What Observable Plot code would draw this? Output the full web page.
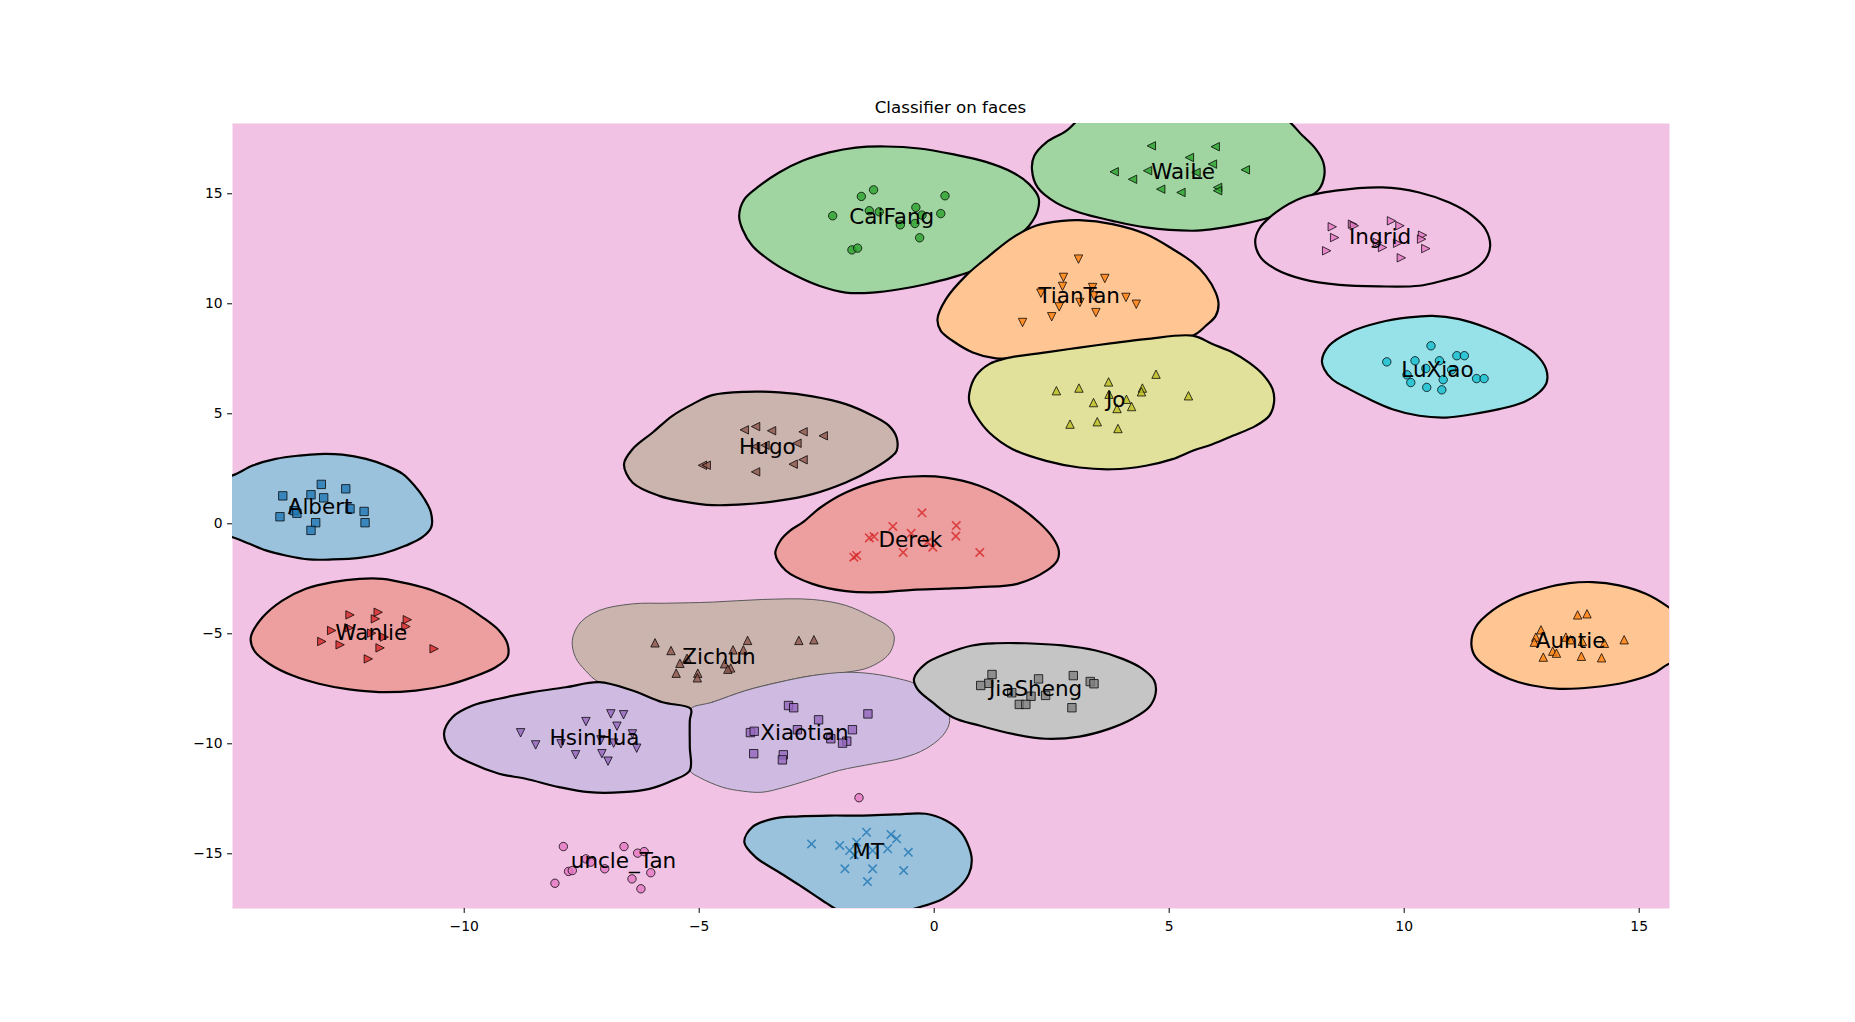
<!DOCTYPE html>
<html><head><meta charset="utf-8">
<script src="https://cdn.jsdelivr.net/npm/d3@7"></script>
<script src="https://cdn.jsdelivr.net/npm/@observablehq/plot@0.6"></script>
<style>
body{margin:0;background:#fff;}
#wrap{position:relative;width:1855px;height:1022px;}
#title{position:absolute;left:232px;width:1437px;top:98px;text-align:center;font:16.67px/20px "DejaVu Sans";color:#000;z-index:2;}
#wrap svg{position:absolute;left:0;top:0;}
</style></head><body>
<div id="wrap"><div id="title">Classifier on faces</div></div>
<script>
// ---------- data ----------
const classNames = ["Albert","Auntie","CaiFang","Derek","HsinHua","Hugo","Ingrid","JiaSheng","Jo","LuXiao","MT","TianTan","WaiLe","Wanlie","Xiaotian","Zichun","uncle_Tan"];
const markerCycle = ["s","^","o","x","v","<",">"];
const xTicks = [-10,-5,0,5,10,15];
const yTicks = [-15,-10,-5,0,5,10,15];

const Albert_pts = [[-13.86,1.27],[-13.04,1.79],[-12.52,1.59],[-13.26,1.32],[-12.99,1.18],[-13.92,0.32],[-13.62,0.60],[-13.56,0.48],[-13.16,0.05],[-13.26,-0.30],[-12.43,0.68],[-12.13,0.56],[-12.11,0.05]];
const Auntie_pts = [[13.69,-4.14],[13.89,-4.09],[12.91,-4.82],[12.80,-5.15],[12.77,-5.38],[13.44,-5.15],[13.54,-5.27],[13.79,-5.34],[14.26,-5.43],[14.68,-5.27],[13.16,-5.79],[13.24,-5.88],[12.96,-6.06],[13.77,-6.02],[14.20,-6.09]];
const CaiFang_pts = [[-1.29,15.18],[-1.55,14.88],[0.23,14.91],[-2.16,14.00],[-0.39,14.38],[0.14,14.10],[-0.72,13.59],[-0.41,13.65],[-0.31,13.00],[-1.75,12.45],[-1.63,12.53],[-1.38,14.23],[-1.17,14.18],[-0.26,14.03]];
const Derek_pts = [[-0.26,0.50],[-0.88,-0.12],[-1.38,-0.64],[-1.28,-0.58],[-0.49,-0.43],[0.47,-0.08],[0.46,-0.56],[-0.03,-1.06],[-0.15,-0.84],[-0.66,-1.30],[0.97,-1.30],[-1.71,-1.52],[-1.65,-1.44]];
const HsinHua_pts = [[-8.80,-9.50],[-8.48,-10.05],[-7.94,-10.0],[-7.41,-8.99],[-6.88,-8.64],[-6.61,-8.68],[-6.75,-9.20],[-7.63,-10.5],[-7.09,-9.82],[-6.82,-9.97],[-7.07,-10.45],[-6.94,-10.79],[-6.33,-10.2],[-6.42,-9.55]];
const Hugo_pts = [[-4.04,4.27],[-3.80,4.42],[-3.46,4.23],[-2.79,4.18],[-2.36,4.00],[-3.80,3.51],[-3.60,3.57],[-2.92,3.66],[-2.79,2.91],[-3.00,2.71],[-3.80,2.36],[-4.93,2.66],[-4.85,2.66]];
const Ingrid_pts = [[8.47,13.5],[8.90,13.62],[8.94,13.55],[9.73,13.77],[9.91,13.55],[8.52,13.01],[8.35,12.41],[9.54,12.56],[9.43,12.79],[9.86,12.75],[9.94,12.09],[10.39,13.12],[10.37,12.94],[10.46,12.51]];
const JiaSheng_pts = [[1.23,-6.85],[1.16,-7.25],[0.99,-7.35],[2.22,-7.05],[2.96,-6.90],[3.32,-7.17],[3.40,-7.27],[1.65,-7.68],[2.06,-7.84],[2.37,-7.80],[1.81,-8.21],[1.95,-8.21],[2.93,-8.36]];
const Jo_pts = [[2.60,6.05],[3.08,6.17],[3.71,6.45],[4.72,6.80],[4.43,6.17],[4.41,6.0],[5.41,5.82],[3.39,5.51],[3.72,5.89],[4.09,5.66],[4.20,5.33],[3.89,5.24],[2.89,4.53],[3.47,4.64],[3.91,4.33]];
const LuXiao_pts = [[10.57,8.09],[9.63,7.36],[10.23,7.41],[10.75,7.41],[11.12,7.64],[11.28,7.64],[10.06,6.77],[10.14,6.42],[10.48,6.20],[10.80,6.09],[10.83,6.55],[11.54,6.60],[11.70,6.60],[10.46,7.06],[11.01,7.0]];
const MT_pts = [[-2.61,-14.55],[-2.01,-14.62],[-1.44,-14.02],[-0.92,-14.12],[-0.80,-14.32],[-1.65,-14.47],[-1.80,-14.85],[-1.70,-15.05],[-1.31,-14.85],[-0.99,-14.77],[-0.55,-14.93],[-1.90,-15.68],[-1.31,-15.68],[-0.65,-15.76],[-1.42,-16.26]];
const TianTan_pts = [[3.07,12.03],[2.75,11.20],[2.73,10.79],[3.63,11.15],[3.37,10.74],[3.40,10.36],[2.27,10.48],[3.10,10.06],[2.66,9.86],[4.08,10.29],[4.30,9.98],[3.44,9.60],[2.50,9.41],[1.88,9.15]];
const WaiLe_pts = [[4.62,17.18],[3.83,16.0],[4.22,15.66],[4.54,16.05],[4.82,15.21],[5.25,15.06],[5.43,16.65],[5.98,17.14],[5.92,16.35],[6.62,16.09],[6.03,15.29],[6.03,15.14],[5.57,15.97]];
const Wanlie_pts = [[-12.43,-4.14],[-11.83,-4.02],[-11.89,-4.32],[-11.21,-4.36],[-11.24,-4.67],[-12.82,-4.85],[-12.45,-4.73],[-13.03,-5.35],[-12.64,-5.50],[-11.97,-4.97],[-11.70,-5.15],[-11.79,-5.64],[-12.04,-6.14],[-10.64,-5.68]];
const Xiaotian_pts = [[-3.10,-8.26],[-2.99,-8.36],[-1.41,-8.64],[-2.46,-8.91],[-1.74,-9.36],[-3.91,-9.49],[-3.83,-9.43],[-2.91,-9.36],[-2.20,-9.77],[-1.86,-9.88],[-1.95,-9.97],[-3.84,-10.45],[-3.21,-10.5],[-3.23,-10.73]];
const Zichun_pts = [[-5.94,-5.41],[-5.60,-5.76],[-5.41,-6.34],[-5.26,-6.11],[-5.49,-6.79],[-5.03,-6.79],[-5.04,-7.00],[-3.97,-5.30],[-4.28,-5.73],[-4.06,-5.73],[-4.46,-6.36],[-4.33,-6.55],[-4.39,-6.61],[-2.88,-5.30],[-2.56,-5.27]];
const uncle_Tan_pts = [[-7.89,-14.67],[-6.60,-14.67],[-6.31,-14.97],[-6.17,-14.90],[-7.41,-15.23],[-7.31,-15.38],[-7.01,-15.68],[-7.78,-15.80],[-7.70,-15.76],[-6.03,-15.86],[-6.43,-16.14],[-6.24,-16.59],[-8.07,-16.34],[-1.60,-12.45]];

// decision-region outlines (data coordinates)
const Albert_region = [[-14.93,2.20],[-14.50,2.65],[-14.01,2.95],[-13.51,3.10],[-13.09,3.17],[-12.59,3.14],[-12.09,2.95],[-11.67,2.65],[-11.31,2.27],[-11.06,1.74],[-10.85,1.14],[-10.71,0.53],[-10.70,-0.15],[-10.89,-0.61],[-11.24,-0.99],[-11.74,-1.36],[-12.23,-1.55],[-12.80,-1.62],[-13.30,-1.62],[-13.80,-1.44],[-14.22,-1.21],[-14.57,-0.91],[-14.93,-0.61],[-15.5,-0.35],[-15.5,1.95]];
const Wanlie_region = [[-14.54,-5.15],[-14.29,-4.25],[-13.87,-3.49],[-13.37,-2.95],[-12.80,-2.65],[-12.23,-2.50],[-11.74,-2.50],[-11.17,-2.73],[-10.67,-3.03],[-10.11,-3.56],[-9.61,-4.25],[-9.26,-4.85],[-9.08,-5.45],[-9.08,-6.06],[-9.33,-6.52],[-9.82,-6.97],[-10.39,-7.35],[-11.03,-7.58],[-11.81,-7.65],[-12.45,-7.53],[-13.09,-7.27],[-13.65,-6.90],[-14.15,-6.36],[-14.47,-5.76]];
const HsinHua_region = [[-10.43,-9.55],[-10.25,-8.79],[-9.82,-8.26],[-9.26,-7.95],[-8.55,-7.65],[-7.84,-7.43],[-7.13,-7.20],[-6.42,-7.58],[-5.78,-8.11],[-5.18,-8.41],[-5.20,-8.94],[-5.20,-10.15],[-5.20,-11.21],[-5.57,-11.67],[-6.06,-12.05],[-6.63,-12.20],[-7.34,-12.20],[-7.98,-11.97],[-8.69,-11.59],[-9.26,-11.36],[-9.82,-10.91],[-10.25,-10.38]];
const Zichun_region = [[-7.70,-5.30],[-7.53,-4.49],[-7.13,-3.94],[-6.42,-3.64],[-5.71,-3.61],[-4.72,-3.56],[-3.65,-3.44],[-2.59,-3.44],[-1.88,-3.71],[-1.31,-4.25],[-0.96,-4.70],[-0.85,-5.15],[-0.96,-5.91],[-1.38,-6.52],[-1.88,-6.75],[-2.59,-6.90],[-3.30,-7.20],[-4.01,-7.58],[-4.72,-8.11],[-5.19,-8.40],[-5.78,-8.11],[-6.42,-7.58],[-7.13,-7.20],[-7.42,-6.67],[-7.63,-6.08]];
const Xiaotian_region = [[-5.18,-8.41],[-4.72,-8.11],[-4.01,-7.58],[-3.30,-7.20],[-2.59,-6.90],[-1.88,-6.75],[-1.31,-6.82],[-0.74,-7.05],[-0.43,-7.25],[-0.11,-7.73],[0.25,-8.34],[0.33,-8.94],[0.21,-9.55],[-0.18,-10.23],[-0.67,-10.64],[-1.31,-10.91],[-2.02,-11.21],[-2.66,-11.64],[-3.23,-12.00],[-3.66,-12.20],[-4.08,-12.15],[-4.51,-11.97],[-5.00,-11.52],[-5.20,-11.21],[-5.21,-10.15],[-5.20,-8.94]];
const JiaSheng_region = [[-0.43,-7.05],[-0.18,-6.36],[0.25,-5.91],[0.81,-5.53],[1.31,-5.43],[1.95,-5.43],[2.73,-5.53],[3.44,-5.76],[4.01,-6.14],[4.43,-6.59],[4.68,-7.12],[4.71,-7.73],[4.57,-8.34],[4.22,-8.86],[3.72,-9.32],[3.09,-9.67],[2.37,-9.77],[1.67,-9.55],[0.96,-9.17],[0.39,-8.79],[-0.04,-8.11],[-0.36,-7.50]];
const MT_region = [[-4.04,-14.47],[-3.87,-13.79],[-3.44,-13.41],[-2.87,-13.30],[-2.23,-13.26],[-1.53,-13.26],[-0.82,-13.21],[-0.18,-13.18],[0.25,-13.49],[0.57,-14.02],[0.74,-14.70],[0.80,-15.30],[0.74,-15.91],[0.53,-16.52],[0.18,-17.05],[-0.32,-17.43],[-0.74,-17.65],[-1.31,-17.80],[-1.95,-17.65],[-2.38,-17.12],[-2.80,-16.52],[-3.30,-15.84],[-3.80,-15.15]];
const Derek_region = [[-3.38,-1.36],[-3.27,-0.76],[-3.06,-0.30],[-2.80,0.06],[-2.42,0.74],[-1.88,1.42],[-1.17,1.95],[-0.46,2.15],[0.25,2.10],[0.96,1.73],[1.67,0.97],[2.23,0.06],[2.52,-0.62],[2.65,-1.21],[2.62,-1.67],[2.40,-2.12],[1.77,-2.73],[0.96,-2.88],[0.25,-2.95],[-0.46,-3.00],[-1.17,-3.11],[-1.88,-3.06],[-2.59,-2.73],[-3.16,-2.12]];
const Hugo_region = [[-6.60,2.71],[-6.42,3.39],[-5.99,4.15],[-5.57,4.91],[-5.14,5.44],[-4.72,5.85],[-4.01,6.00],[-3.30,5.97],[-2.59,5.79],[-1.88,5.44],[-1.31,4.91],[-0.96,4.45],[-0.80,3.92],[-0.80,3.32],[-0.89,3.09],[-1.31,2.48],[-1.88,1.88],[-2.59,1.35],[-3.30,1.05],[-4.01,0.89],[-4.72,0.85],[-5.29,1.00],[-5.85,1.27],[-6.42,1.88]];
const CaiFang_region = [[-4.15,14.0],[-4.04,14.75],[-3.72,15.36],[-3.30,15.97],[-2.80,16.5],[-2.23,16.88],[-1.67,17.1],[-1.03,17.15],[-0.32,17.06],[0.39,16.8],[1.10,16.45],[1.67,15.97],[2.02,15.44],[2.22,14.83],[2.20,14.23],[2.02,13.55],[1.67,12.86],[1.31,12.18],[0.89,11.57],[0.39,11.2],[-0.18,10.89],[-0.74,10.66],[-1.31,10.51],[-1.88,10.51],[-2.45,10.82],[-2.94,11.27],[-3.44,11.88],[-3.87,12.64],[-4.08,13.39]];
const TianTan_region = [[0.07,9.30],[0.25,10.21],[0.67,11.27],[1.17,12.18],[1.67,13.01],[2.16,13.55],[2.73,13.77],[3.09,13.8],[3.79,13.62],[4.50,13.17],[5.08,12.48],[5.50,11.88],[5.78,11.27],[5.99,10.51],[6.05,9.98],[5.99,9.45],[5.78,9.0],[5.50,8.55],[4.50,8.17],[3.79,8.01],[3.09,7.79],[2.38,7.64],[1.67,7.52],[1.31,7.52],[0.82,7.79],[0.39,8.32],[0.14,8.77]];
const Jo_region = [[0.75,5.97],[0.89,6.73],[1.17,7.26],[1.52,7.52],[2.38,7.79],[3.09,8.01],[3.79,8.21],[4.50,8.39],[5.50,8.55],[5.92,8.17],[6.35,7.79],[6.70,7.33],[6.99,6.80],[7.20,6.12],[7.23,5.51],[7.13,4.91],[6.84,4.45],[6.35,4.0],[5.92,3.62],[5.50,3.32],[5.07,2.94],[4.50,2.64],[3.79,2.48],[3.09,2.56],[2.38,2.86],[1.67,3.39],[1.17,4.15],[0.89,4.91],[0.75,5.51]];
const WaiLe_region = [[2.08,16.12],[2.13,16.73],[2.38,17.33],[2.81,17.86],[3.3,18.7],[5.3,18.9],[7.27,18.7],[7.84,17.64],[8.12,17.03],[8.28,16.42],[8.30,15.82],[8.19,15.21],[7.91,14.75],[7.55,14.30],[7.13,13.92],[6.56,13.62],[5.92,13.39],[5.50,13.32],[4.50,13.47],[3.79,13.77],[3.09,14.15],[2.59,14.6],[2.20,15.29]];
const Ingrid_region = [[6.83,12.79],[6.91,13.39],[7.27,14.15],[7.84,14.83],[8.54,15.14],[9.54,15.29],[10.32,15.06],[10.96,14.6],[11.45,14.0],[11.73,13.39],[11.83,12.64],[11.73,12.03],[11.38,11.42],[10.81,11.05],[10.32,10.82],[9.47,10.79],[8.62,10.86],[7.84,11.12],[7.27,11.57],[6.95,12.1]];
const LuXiao_region = [[8.25,7.41],[8.40,8.09],[8.83,8.70],[9.47,9.15],[10.10,9.38],[10.60,9.45],[11.17,9.30],[11.74,8.92],[12.30,8.39],[12.80,7.71],[13.02,7.03],[13.03,6.42],[12.87,5.97],[12.52,5.51],[12.02,5.21],[11.45,4.98],[10.89,4.83],[10.32,4.91],[9.75,5.21],[9.26,5.66],[8.83,6.12],[8.47,6.57],[8.30,7.03]];
const Auntie_region = [[11.43,-5.49],[11.52,-4.70],[11.88,-3.94],[12.38,-3.34],[12.94,-2.95],[13.51,-2.70],[14.01,-2.65],[14.57,-2.80],[15.14,-3.18],[15.57,-3.71],[16.14,-4.70],[16.21,-5.61],[16.06,-6.21],[15.64,-6.36],[15.29,-6.82],[14.72,-7.20],[14.01,-7.43],[13.30,-7.50],[12.73,-7.35],[12.24,-7.05],[11.81,-6.59],[11.52,-6.06]];

// ---------- build ----------
const ptsByName = {Albert:Albert_pts,Auntie:Auntie_pts,CaiFang:CaiFang_pts,Derek:Derek_pts,HsinHua:HsinHua_pts,Hugo:Hugo_pts,Ingrid:Ingrid_pts,JiaSheng:JiaSheng_pts,Jo:Jo_pts,LuXiao:LuXiao_pts,MT:MT_pts,TianTan:TianTan_pts,WaiLe:WaiLe_pts,Wanlie:Wanlie_pts,Xiaotian:Xiaotian_pts,Zichun:Zichun_pts,uncle_Tan:uncle_Tan_pts};
const regionByName = {Zichun:Zichun_region,Xiaotian:Xiaotian_region,HsinHua:HsinHua_region,Albert:Albert_region,Wanlie:Wanlie_region,JiaSheng:JiaSheng_region,MT:MT_region,Derek:Derek_region,Hugo:Hugo_region,CaiFang:CaiFang_region,WaiLe:WaiLe_region,TianTan:TianTan_region,Jo:Jo_region,Ingrid:Ingrid_region,LuXiao:LuXiao_region,Auntie:Auntie_region};
const thinOutline = new Set(["Zichun","Xiaotian"]);

const tab10 = d3.schemeCategory10;
const colorOf = n => tab10[classNames.indexOf(n) % 10];
const markerOf = n => markerCycle[classNames.indexOf(n) % 7];
const blend = (c, a) => d3.interpolateRgb("#ffffff", c)(a);
const bgFill = blend(colorOf("uncle_Tan"), 0.45);

const H = 4.2;
const poly = (pts) => ({draw(ctx){ ctx.moveTo(pts[0][0],pts[0][1]); for (let i=1;i<pts.length;i++) ctx.lineTo(pts[i][0],pts[i][1]); ctx.closePath(); }});
const symbols = {
  "s": poly([[-H,-H],[H,-H],[H,H],[-H,H]]),
  "^": poly([[0,-H],[H,H],[-H,H]]),
  "v": poly([[0,H],[H,-H],[-H,-H]]),
  "<": poly([[-H,0],[H,-H],[H,H]]),
  ">": poly([[H,0],[-H,-H],[-H,H]]),
  "o": {draw(ctx){ ctx.moveTo(H,0); ctx.arc(0,0,H,0,2*Math.PI); }},
  "x": {draw(ctx){ ctx.moveTo(-H,-H); ctx.lineTo(H,H); ctx.moveTo(-H,H); ctx.lineTo(H,-H); }}
};

const allPts = classNames.flatMap(n => ptsByName[n].map(([x,y]) => ({name:n, x, y})));

const regionMarks = Object.keys(regionByName).map(n => Plot.line(regionByName[n], {
  x: d => d[0], y: d => d[1], curve: "catmull-rom-closed",
  fill: blend(colorOf(n), 0.45),
  stroke: thinOutline.has(n) ? "#5a5a5a" : "black",
  strokeWidth: thinOutline.has(n) ? 1 : 2.2,
  clip: true
}));

const dotMarks = classNames.map(n => {
  const m = markerOf(n);
  if (m === "x") return Plot.dot(ptsByName[n], {x: d=>d[0], y: d=>d[1], symbol: symbols.x, r: 4, fill: "none", stroke: colorOf(n), strokeWidth: 1.6, strokeOpacity: 0.8});
  return Plot.dot(ptsByName[n], {x: d=>d[0], y: d=>d[1], symbol: symbols[m], r: 4, fill: colorOf(n), fillOpacity: 0.8, stroke: "black", strokeWidth: 1, strokeOpacity: 0.75});
});

const chart = Plot.plot({
  width: 1855, height: 1022,
  marginLeft: 232, marginRight: 186, marginTop: 123, marginBottom: 114,
  style: {fontFamily: "DejaVu Sans", fontSize: "13.9px", background: "transparent", color: "black"},
  x: {domain: [-14.93, 15.645], label: null},
  y: {domain: [-17.486, 18.195], label: null},
  marks: [
    Plot.frame({fill: bgFill, stroke: "none"}),
    ...regionMarks,
    ...dotMarks,
    Plot.text(allPts, Plot.groupZ({x: "mean", y: "mean", text: "first"}, {x: "x", y: "y", z: "name", text: "name", fontSize: 21.5, fill: "black"})),
    Plot.axisX({ticks: xTicks, tickSize: 4.9, tickPadding: 8, fontSize: 13.9, label: null}),
    Plot.axisY({ticks: yTicks, tickSize: 4.9, tickPadding: 4.9, fontSize: 13.9, label: null})
  ]
});
document.getElementById("wrap").appendChild(chart);
</script>
</body></html>
